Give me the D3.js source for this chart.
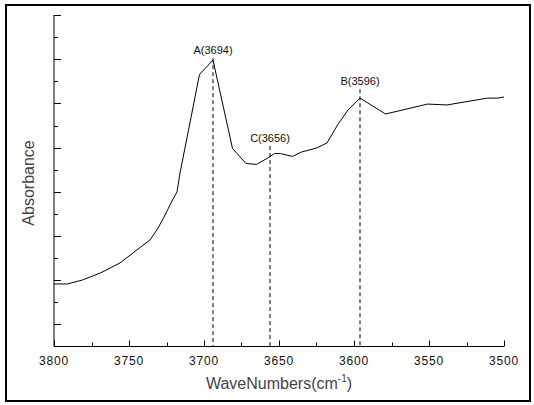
<!DOCTYPE html>
<html>
<head>
<meta charset="utf-8">
<script src="https://cdn.jsdelivr.net/npm/d3@7"></script>
<style>
  html, body { margin: 0; padding: 0; background: #fff; }
  svg { display: block; font-family: "Liberation Sans", Arial, sans-serif; }
</style>
</head>
<body>
<svg id="chart" width="534" height="405"></svg>
<script>
// IR spectrum in the O–H stretching region
const wavenumbers = [3800, 3791, 3781, 3769, 3756, 3743, 3736, 3731, 3727, 3721, 3718, 3716,
  3703, 3694, 3681, 3672, 3665, 3658, 3653, 3649, 3641, 3635, 3625, 3618, 3611, 3604,
  3596, 3579, 3551, 3538, 3511, 3504, 3500];
const absorbance = [0.283, 0.283, 0.301, 0.333, 0.378, 0.446, 0.482, 0.532, 0.581, 0.663, 0.699, 0.785,
  1.231, 1.296, 0.896, 0.828, 0.824, 0.851, 0.873, 0.873, 0.860, 0.880, 0.898, 0.921, 1.002, 1.070,
  1.124, 1.052, 1.097, 1.093, 1.124, 1.124, 1.129];

// Marked bands: name, wavenumber, height where the label sits
const peakNames = ["A", "C", "B"];
const peakWavenumbers = [3694, 3656, 3596];
const peakLabelLevels = [1.323, 0.925, 1.182];

const xTickValues = [3800, 3750, 3700, 3650, 3600, 3550, 3500];
const xTitle = "WaveNumbers(cm";
const xTitleSup = "-1";
const yTitle = "Absorbance";

const svg = d3.select("#chart");

// frame around the figure
svg.append("rect")
  .attr("x", 6).attr("y", 5).attr("width", 524).attr("height", 396)
  .attr("fill", "none").attr("stroke", "#000").attr("stroke-width", 2);

const x = d3.scaleLinear().domain([3800, 3500]).range([54, 504]);
const y = d3.scaleLinear().domain([0, 1.5]).range([346.5, 15]);

const g = svg.append("g");

// x axis: major ticks every 50, minor every 25, ticks pointing inward
const xAxisG = g.append("g").attr("transform", `translate(0,${y(0)})`);
xAxisG.append("line")
  .attr("x1", x(3800)).attr("x2", x(3500)).attr("stroke", "#000").attr("stroke-width", 1);
const xTicksAll = d3.range(3800, 3499, -25);
xAxisG.selectAll("line.tick").data(xTicksAll).join("line")
  .attr("class", "tick")
  .attr("x1", d => Math.round(x(d)) + 0.5).attr("x2", d => Math.round(x(d)) + 0.5)
  .attr("y1", 0).attr("y2", d => (d % 50 === 0 ? -6 : -4))
  .attr("stroke", "#000").attr("stroke-width", 1);
xAxisG.selectAll("text").data(xTickValues).join("text")
  .attr("x", d => x(d)).attr("y", 18)
  .attr("text-anchor", "middle")
  .attr("font-size", 12).attr("letter-spacing", 0.8)
  .attr("fill", "#111")
  .text(d => d);

// y axis: unlabeled, alternating long and short ticks
const yAxisG = g.append("g").attr("transform", `translate(${x(3800)},0)`);
yAxisG.append("line")
  .attr("y1", y(0)).attr("y2", y(1.5)).attr("stroke", "#000").attr("stroke-width", 1);
const yTicksAll = d3.range(1, 16);
yAxisG.selectAll("line.tick").data(yTicksAll).join("line")
  .attr("class", "tick")
  .attr("y1", d => Math.round(y(d / 10)) + 0.5).attr("y2", d => Math.round(y(d / 10)) + 0.5)
  .attr("x1", 0).attr("x2", d => (d % 2 === 1 ? 7 : 4))
  .attr("stroke", "#000").attr("stroke-width", 1);

// spectrum
const line = d3.line()
  .x((d, i) => x(wavenumbers[i]))
  .y(d => y(d));
g.append("path")
  .datum(absorbance)
  .attr("d", line)
  .attr("fill", "none")
  .attr("stroke", "#000")
  .attr("stroke-width", 1);

// dashed markers and their labels
const peaks = peakNames.map((n, i) => ({ name: n, w: peakWavenumbers[i], lvl: peakLabelLevels[i] }));
g.selectAll("line.marker").data(peaks).join("line")
  .attr("class", "marker")
  .attr("x1", d => x(d.w)).attr("x2", d => x(d.w))
  .attr("y1", d => y(d.lvl) + 4).attr("y2", y(0))
  .attr("stroke", "#000").attr("stroke-width", 1)
  .attr("stroke-dasharray", "4,3");
g.selectAll("text.peak").data(peaks).join("text")
  .attr("class", "peak")
  .attr("x", d => x(d.w)).attr("y", d => y(d.lvl))
  .attr("text-anchor", "middle")
  .attr("font-size", 11)
  .attr("fill", "#111")
  .text(d => `${d.name}(${d.w})`);

// axis titles
const xt = svg.append("text")
  .attr("x", x(3650)).attr("y", 389)
  .attr("text-anchor", "middle")
  .attr("font-size", 16)
  .attr("fill", "#444");
xt.append("tspan").text(xTitle);
xt.append("tspan").attr("font-size", 10).attr("dy", -7).text(xTitleSup);
xt.append("tspan").attr("dy", 7).text(")");

svg.append("text")
  .attr("transform", `translate(34,${y(0.74)}) rotate(-90)`)
  .attr("text-anchor", "middle")
  .attr("font-size", 16)
  .attr("fill", "#444")
  .text(yTitle);
</script>
</body>
</html>
